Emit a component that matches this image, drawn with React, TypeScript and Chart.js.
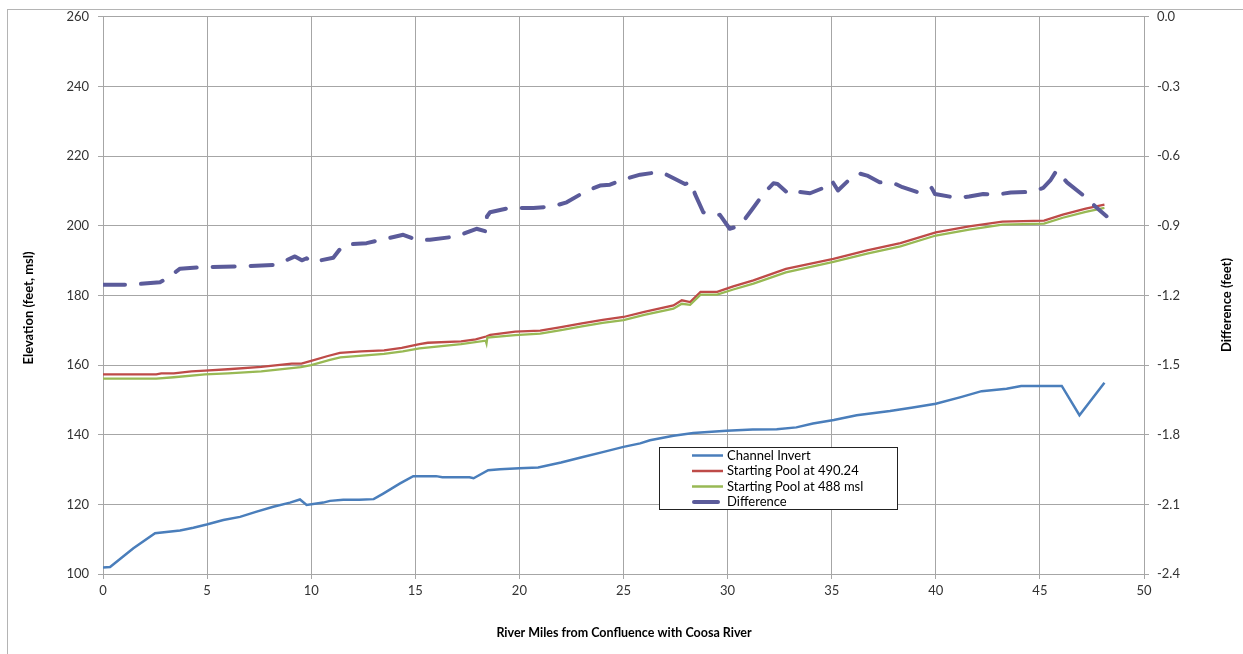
import React, { useEffect, useRef } from "react";
import { Chart, registerables } from "chart.js";

Chart.register(...registerables);

const FONT = "Lato, 'Open Sans', sans-serif";

// River miles / elevation along the channel bottom
const invertMiles = [0, 0.34, 1.46, 2.5, 3.7, 4.34, 4.98, 5.78, 6.58, 7.38, 8.18, 8.98, 9.46, 9.78, 10.58, 10.9, 11.54, 12.3, 13.0, 13.46, 14.27, 14.9, 16.0, 16.3, 17.6, 17.8, 18.5, 19.07, 20.0, 20.9, 22.0, 23.0, 24.0, 25.0, 25.8, 26.27, 27.4, 28.35, 29.95, 31.2, 32.36, 33.3, 34.1, 35.1, 36.2, 37.8, 38.9, 40.0, 41.2, 42.2, 43.4, 44.1, 46.05, 46.9, 48.1];
const invertElev = [101.9, 102, 107.4, 111.7, 112.5, 113.3, 114.2, 115.5, 116.4, 117.9, 119.3, 120.5, 121.4, 119.8, 120.5, 121, 121.3, 121.3, 121.5, 123.1, 126, 128.1, 128.1, 127.8, 127.8, 127.5, 129.8, 130.1, 130.4, 130.6, 132, 133.5, 135, 136.5, 137.5, 138.4, 139.7, 140.5, 141.1, 141.5, 141.6, 142.1, 143.2, 144.2, 145.6, 146.8, 147.8, 148.9, 150.8, 152.5, 153.2, 154, 154, 145.6, 154.9];

// Water surface, starting pool at 490.24
const pool490Miles = [0, 2.56, 2.8, 3.4, 4.25, 4.9, 6.0, 7.6, 9.06, 9.53, 10.0, 10.8, 11.38, 12.4, 13.5, 14.35, 15.2, 15.6, 17.2, 17.9, 18.4, 18.6, 19.8, 21.0, 22.0, 23.0, 24.0, 25.0, 26.0, 27.4, 27.8, 28.2, 28.7, 29.5, 30.27, 31.24, 32.8, 35.08, 36.7, 38.3, 40.0, 41.6, 43.2, 45.2, 46.1, 47.2, 48.1];
const pool490Elev = [157.3, 157.3, 157.6, 157.6, 158.2, 158.4, 158.8, 159.5, 160.4, 160.4, 161.2, 162.6, 163.5, 163.9, 164.2, 164.9, 166, 166.4, 166.8, 167.4, 168.2, 168.7, 169.6, 169.9, 170.9, 172, 173, 173.8, 175.3, 177.1, 178.6, 178.1, 181, 181, 182.6, 184.3, 187.6, 190.5, 192.9, 195, 198.1, 199.8, 201.2, 201.5, 203.2, 204.9, 206.1];

// Water surface, starting pool at 488 msl
const pool488Miles = [0, 2.56, 3.4, 4.9, 6.0, 7.6, 9.5, 10.0, 10.9, 11.4, 13.5, 14.4, 15.2, 17.2, 18.38, 18.42, 18.46, 19.8, 21.0, 22.0, 23.0, 24.0, 25.0, 26.0, 27.4, 27.8, 28.2, 28.7, 29.5, 30.27, 31.24, 32.8, 35.08, 36.7, 38.3, 40.0, 41.6, 43.2, 45.2, 46.1, 47.2, 48.1];
const pool488Elev = [156.1, 156.1, 156.5, 157.3, 157.6, 158.2, 159.4, 160, 161.5, 162.2, 163.2, 163.9, 164.8, 166, 167, 166.2, 167.9, 168.6, 169, 170, 171.1, 172.1, 172.9, 174.4, 176.2, 177.6, 177.3, 180.2, 180.2, 181.7, 183.4, 186.6, 189.6, 192, 194.1, 197.2, 198.9, 200.3, 200.6, 202.3, 204, 205.1];

// Difference between the two profiles (feet)
const diffMiles = [0, 1.3, 2.74, 3.06, 3.7, 4.82, 6.58, 8.34, 9.22, 9.55, 9.78, 10.0, 11.06, 11.54, 12.66, 14.42, 15.14, 15.7, 16.98, 17.94, 18.42, 18.44, 18.59, 19.55, 20.67, 21.6, 22.27, 23.2, 23.87, 24.35, 24.99, 25.8, 26.6, 26.9, 27.55, 27.95, 28.27, 28.43, 28.83, 29.3, 29.63, 30.1, 30.6, 31.2, 31.71, 32.2, 32.4, 32.99, 33.48, 33.96, 34.6, 35.0, 35.3, 35.8, 36.3, 36.7, 37.3, 37.95, 38.4, 39.1, 39.6, 39.8, 39.96, 41.0, 41.6, 42.28, 42.9, 43.6, 44.6, 45.16, 45.5, 45.8, 46.3, 47.1, 47.7, 48.2];
const diffFeet = [-1.154, -1.154, -1.143, -1.128, -1.085, -1.078, -1.075, -1.068, -1.032, -1.049, -1.04, -1.057, -1.038, -0.982, -0.975, -0.939, -0.963, -0.96, -0.946, -0.913, -0.925, -0.86, -0.842, -0.823, -0.824, -0.817, -0.799, -0.751, -0.727, -0.723, -0.701, -0.68, -0.67, -0.672, -0.702, -0.72, -0.713, -0.763, -0.842, -0.856, -0.853, -0.913, -0.899, -0.827, -0.763, -0.717, -0.72, -0.767, -0.755, -0.76, -0.737, -0.705, -0.748, -0.705, -0.674, -0.684, -0.713, -0.715, -0.734, -0.755, -0.751, -0.737, -0.763, -0.78, -0.774, -0.763, -0.766, -0.757, -0.754, -0.737, -0.705, -0.662, -0.713, -0.77, -0.82, -0.859];

const seriesLabels = ["Channel Invert", "Starting Pool at 490.24", "Starting Pool at 488 msl", "Difference"];
const seriesColors = ["#4A7EBB", "#BE4B48", "#98B954", "#5B5B9A"];

const xTitle = "River Miles from Confluence with Coosa River";
const yTitle = "Elevation (feet, msl)";
const y2Title = "Difference (feet)";

const GRID = "#a6a6a6";

const pts = (xs: number[], ys: number[]) => xs.map((x, i) => ({ x, y: ys[i] }));

// Outer frame, axis titles and the boxed legend inside the plot
const decorations = {
  id: "decorations",
  beforeDraw(chart: any) {
    const { ctx, width, height } = chart;
    ctx.save();
    ctx.fillStyle = "#ffffff";
    ctx.fillRect(0, 0, width, height);
    ctx.strokeStyle = "#b4b4b4";
    ctx.lineWidth = 1;
    ctx.strokeRect(7.5, 9.5, width + 20, height + 20);
    ctx.restore();
  },
  afterDraw(chart: any) {
    const { ctx } = chart;
    ctx.save();
    ctx.fillStyle = "#000";
    ctx.textAlign = "center";
    ctx.textBaseline = "middle";
    ctx.font = `bold 12.5px ${FONT}`;
    ctx.fillText(xTitle, 624, 633);

    ctx.font = `bold 13px ${FONT}`;
    ctx.save();
    ctx.translate(29, 308);
    ctx.rotate(-Math.PI / 2);
    ctx.fillText(yTitle, 0, 0);
    ctx.restore();

    ctx.save();
    ctx.translate(1227, 305);
    ctx.rotate(-Math.PI / 2);
    ctx.fillText(y2Title, 0, 0);
    ctx.restore();

    // legend
    const bx = 659.5, by = 447.5, bw = 238, bh = 62;
    ctx.fillStyle = "#fff";
    ctx.fillRect(bx, by, bw, bh);
    ctx.strokeStyle = "#222";
    ctx.lineWidth = 1;
    ctx.strokeRect(bx, by, bw, bh);
    ctx.font = `13px ${FONT}`;
    ctx.textAlign = "left";
    chart.data.datasets.forEach((ds: any, i: number) => {
      const yy = 455.5 + i * 15.5;
      const dash = i === 3;
      ctx.strokeStyle = ds.borderColor;
      ctx.lineWidth = dash ? 4 : 2.5;
      ctx.lineCap = dash ? "round" : "butt";
      ctx.beginPath();
      ctx.moveTo(dash ? 694 : 692, yy);
      ctx.lineTo(dash ? 718 : 723, yy);
      ctx.stroke();
      ctx.fillStyle = "#000";
      ctx.fillText(ds.label, 727, yy);
    });
    ctx.restore();
  },
};

export default function App() {
  const ref = useRef<HTMLCanvasElement | null>(null);

  useEffect(() => {
    if (!ref.current) return;
    const tickFont = { family: FONT, size: 13 };
    const chart = new Chart(ref.current, {
      type: "line",
      data: {
        datasets: [
          {
            label: seriesLabels[0],
            data: pts(invertMiles, invertElev),
            borderColor: seriesColors[0],
            borderWidth: 2.5,
            pointRadius: 0,
            yAxisID: "y",
            order: 3,
          },
          {
            label: seriesLabels[1],
            data: pts(pool490Miles, pool490Elev),
            borderColor: seriesColors[1],
            borderWidth: 2.3,
            pointRadius: 0,
            yAxisID: "y",
            order: 2,
          },
          {
            label: seriesLabels[2],
            data: pts(pool488Miles, pool488Elev),
            borderColor: seriesColors[2],
            borderWidth: 2.3,
            pointRadius: 0,
            yAxisID: "y",
            order: 1,
          },
          {
            label: seriesLabels[3],
            data: pts(diffMiles, diffFeet),
            borderColor: seriesColors[3],
            borderWidth: 4,
            borderDash: [22, 16],
            borderCapStyle: "round",
            borderJoinStyle: "round",
            pointRadius: 0,
            yAxisID: "y2",
            order: 0,
          },
        ],
      },
      options: {
        animation: false,
        responsive: false,
        devicePixelRatio: 1,
        layout: { padding: { top: 16, left: 0, right: 0, bottom: 0 } },
        plugins: { legend: { display: false }, tooltip: { enabled: false } },
        scales: {
          x: {
            type: "linear",
            min: 0,
            max: 50,
            ticks: { stepSize: 5, font: tickFont, color: "#333", padding: 4, maxRotation: 0 },
            grid: { color: GRID, tickLength: 5 },
            border: { color: GRID },
            afterFit: (s: any) => { s.height = 80; },
          },
          y: {
            type: "linear",
            position: "left",
            min: 100,
            max: 260,
            ticks: { stepSize: 20, font: tickFont, color: "#333", padding: 9 },
            grid: { color: GRID, tickLength: 5 },
            border: { color: GRID },
            afterFit: (s: any) => { s.width = 103; },
          },
          y2: {
            type: "linear",
            position: "right",
            min: -2.4,
            max: 0,
            ticks: {
              stepSize: 0.3,
              font: tickFont,
              color: "#333",
              padding: 8,
              callback: (v: any) => Number(v).toFixed(1),
            },
            grid: { drawOnChartArea: false, color: GRID, tickLength: 5 },
            border: { color: GRID },
            afterFit: (s: any) => { s.width = 99; },
          },
        },
      },
      plugins: [decorations],
    });
    return () => chart.destroy();
  }, []);

  return (
    <div style={{ position: "fixed", left: 0, top: 0, width: 1243, height: 654, background: "#fff" }}>
      <canvas ref={ref} width={1243} height={654} style={{ display: "block" }} />
    </div>
  );
}
